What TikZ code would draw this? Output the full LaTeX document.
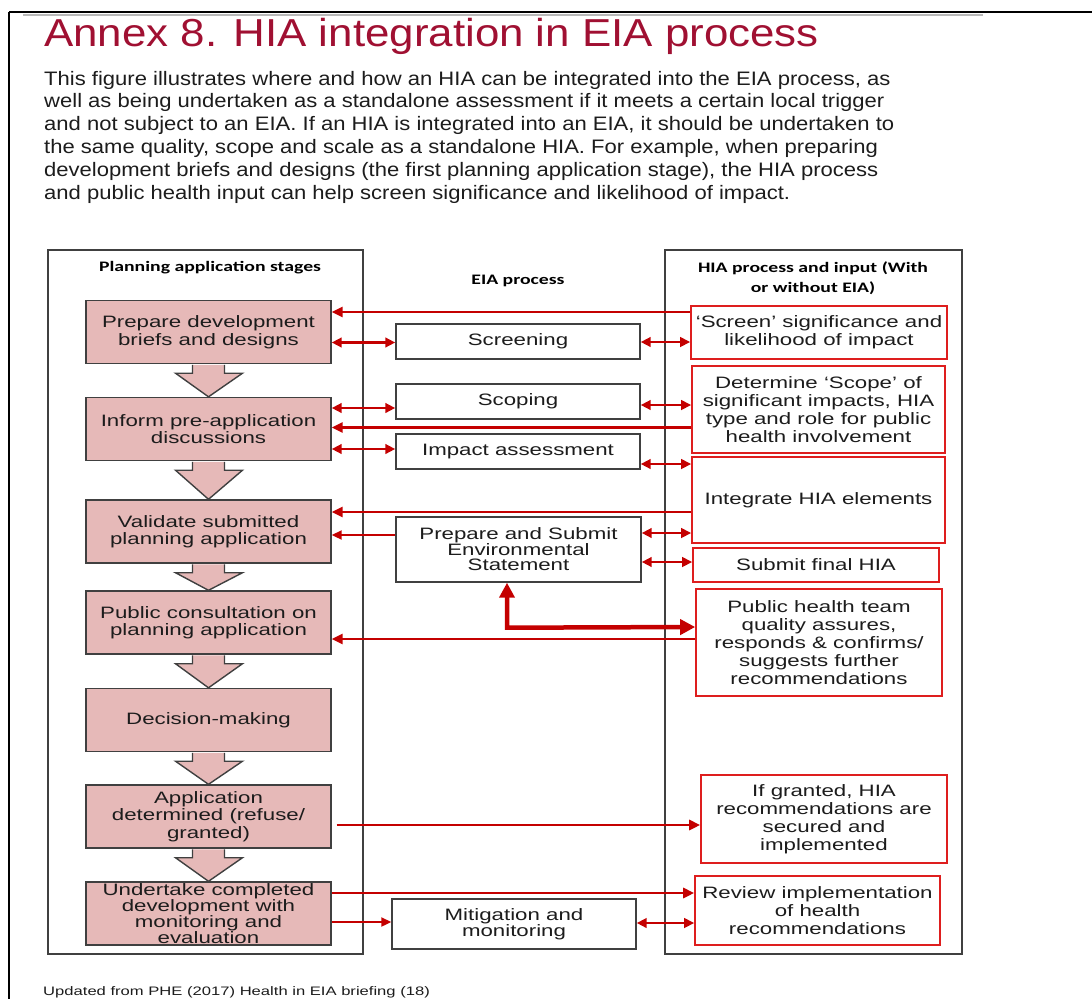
\documentclass[tikz,border=0pt]{standalone}
\usepackage{fontspec}
\usetikzlibrary{arrows.meta,calc}
\setmainfont{Liberation Sans}
\newfontfamily\dgf{Liberation Sans}[FakeStretch=1.35]
\newfontfamily\hdf{Carlito}[FakeStretch=1.36]
\newfontfamily\ttlf{Liberation Sans}[FakeStretch=1.125]
\newfontfamily\parf{Liberation Sans}[FakeStretch=1.13]
\definecolor{ttl}{RGB}{160,16,50}
\definecolor{pinkc}{RGB}{230,185,184}
\definecolor{bord}{RGB}{64,64,64}
\definecolor{arr}{RGB}{196,0,0}
\definecolor{redb}{RGB}{222,30,30}
\definecolor{txt}{RGB}{28,28,28}
\tikzset{
  pk/.style={draw=bord, fill=pinkc, line width=1.4pt, minimum width=245pt, minimum height=63pt, inner sep=0pt, align=center, text=txt, font=\dgf\fontsize{16.5}{17.5}\selectfont},
  mb/.style={draw=bord, fill=white, line width=1.4pt, inner sep=0pt, align=center, text=txt, font=\dgf\fontsize{16.5}{17.5}\selectfont},
  rb/.style={draw=redb, fill=white, line width=1.6pt, inner sep=0pt, align=center, text=txt, font=\dgf\fontsize{16.5}{18}\selectfont},
  col/.style={draw=bord, line width=1.4pt, inner sep=0pt},
  hd/.style={inner sep=0pt, align=center, text=black, font=\hdf\bfseries\fontsize{14.5}{20}\selectfont},
  blk/.style={draw=bord, fill=pinkc, line width=1.4pt, line join=miter},
  ar/.style={draw=arr, line width=2.8pt, -{Triangle[length=11pt,width=10pt]}},
  arthin/.style={draw=arr, line width=2pt, -{Triangle[length=10pt,width=9pt]}},
  dar/.style={draw=arr, line width=2.6pt, {Triangle[length=10pt,width=9.5pt]}-{Triangle[length=10pt,width=9.5pt]}},
  bigar/.style={draw=arr, line width=4.5pt, {Triangle[length=15pt,width=15pt]}-{Triangle[length=15pt,width=15pt]}},
  para/.style={anchor=base west, inner sep=0pt, text=txt, font=\parf\fontsize{19.5}{22}\selectfont}
}
\begin{document}
\begin{tikzpicture}[x=1pt,y=-1pt]
\useasboundingbox (0,0) rectangle (1092,999);
% page frame
\draw[gray!55, line width=2pt] (23,15) -- (983,15);
\draw[black, line width=2.5pt] (9,12) -- (1092,12);
\draw[black, line width=2.5pt] (9,12) -- (9,999);
% title and text
\node[anchor=base west, inner sep=0pt, text=ttl, font=\ttlf\fontsize{39}{40}\selectfont] (title) at (44,46) {Annex 8. HIA integration in EIA process};
\node[para] (p1) at (44,85) {This figure illustrates where and how an HIA can be integrated into the EIA process, as};
\node[para] (p2) at (44,107.8) {well as being undertaken as a standalone assessment if it meets a certain local trigger};
\node[para] (p3) at (44,130.6) {and not subject to an EIA. If an HIA is integrated into an EIA, it should be undertaken to};
\node[para] (p4) at (44,153.4) {the same quality, scope and scale as a standalone HIA. For example, when preparing};
\node[para] (p5) at (44,176.2) {development briefs and designs (the first planning application stage), the HIA process};
\node[para] (p6) at (44,199) {and public health input can help screen significance and likelihood of impact.};
% columns
\node[col, minimum width=315pt, minimum height=704pt] (lc) at (205.5,602) {};
\node[col, minimum width=297pt, minimum height=704pt] (rc) at (813.5,602) {};
\node[hd] (lh) at (210,268) {Planning application stages};
\node[hd] (mh) at (518,281) {EIA process};
\node[hd] (rh) at (813,278) {HIA process and input (With\\or without EIA)};
% left boxes
\node[pk] (b1) at (208.5,332) {Prepare development\\briefs and designs};
\node[pk] (b2) at (208.5,429) {Inform pre-application\\discussions};
\node[pk] (b3) at (208.5,531.5) {Validate submitted\\planning application};
\node[pk] (b4) at (208.5,622.5) {Public consultation on\\planning application};
\node[pk] (b5) at (208.5,720) {Decision-making};
\node[pk] (b6) at (208.5,816.5) {Application\\determined (refuse/\\granted)};
\node[pk, font=\dgf\fontsize{16.5}{16}\selectfont] (b7) at (208.5,913.5) {Undertake completed\\development with\\monitoring and\\evaluation};
% block arrows
\foreach \a/\b in {b1/b2,b2/b3,b3/b4,b4/b5,b5/b6,b6/b7}{
  \filldraw[blk] ($(\a.south)+(-16,0.7)$) -- ($(\a.south)+(-16,9)$) -- ($(\a.south)+(-33,9)$) -- (\b.north) -- ($(\a.south)+(34,9)$) -- ($(\a.south)+(16,9)$) -- ($(\a.south)+(16,0.7)$);
}
% middle boxes
\node[mb, minimum width=244pt, minimum height=35pt] (scr) at (518,341.5) {Screening};
\node[mb, minimum width=244pt, minimum height=35pt] (scp) at (518,401.5) {Scoping};
\node[mb, minimum width=244pt, minimum height=35pt] (imp) at (518,451.5) {Impact assessment};
\node[mb, minimum width=245pt, minimum height=65pt, font=\dgf\fontsize{16.5}{15.5}\selectfont] (es) at (518.5,549.5) {Prepare and Submit\\Environmental\\Statement};
\node[mb, minimum width=244pt, minimum height=50pt, font=\dgf\fontsize{16.5}{16}\selectfont] (mit) at (514,924) {Mitigation and\\monitoring};
% right boxes
\node[rb, minimum width=256pt, minimum height=53pt] (sc) at (819,332.5) {‘Screen’ significance and\\likelihood of impact};
\node[rb, minimum width=253pt, minimum height=87pt] (det) at (818.5,409.5) {Determine ‘Scope’ of\\significant impacts, HIA\\type and role for public\\health involvement};
\node[rb, minimum width=253pt, minimum height=86pt] (int) at (818.5,500) {Integrate HIA elements};
\node[rb, minimum width=246pt, minimum height=34pt] (sub) at (816,565) {Submit final HIA};
\node[rb, minimum width=246pt, minimum height=107pt] (ph) at (819,642.5) {Public health team\\quality assures,\\responds \& confirms/\\suggests further\\recommendations};
\node[rb, minimum width=246pt, minimum height=88pt] (ifg) at (824,819) {If granted, HIA\\recommendations are\\secured and\\implemented};
\node[rb, minimum width=245pt, minimum height=69pt] (rev) at (817.5,910.5) {Review implementation\\of health\\recommendations};
% connectors
\draw[ar] (sc.west |- 0,312) -- (b1.east |- 0,312);
\draw[dar] (b1.east |- 0,342.5) -- (scr.west |- 0,342.5);
\draw[dar] (scr.east |- 0,342) -- (sc.west |- 0,342);
\draw[dar] (b2.east |- 0,408) -- (scp.west |- 0,408);
\draw[dar] (scp.east |- 0,405) -- (det.west |- 0,405);
\draw[ar] (det.west |- 0,427.5) -- (b2.east |- 0,427.5);
\draw[dar] (b2.east |- 0,449) -- (imp.west |- 0,449);
\draw[dar] (imp.east |- 0,464) -- (int.west |- 0,464);
\draw[ar] (int.west |- 0,512) -- (b3.east |- 0,512);
\draw[arthin] (es.west |- 0,535) -- (b3.east |- 0,535);
\draw[dar] (es.east |- 0,533) -- (int.west |- 0,533);
\draw[dar] (es.east |- 0,562) -- (sub.west |- 0,562);
\draw[bigar] ($(es.south)+(-11.5,0)$) -- ($(es.south)+(-11.5,45)$) -- (ph.west |- 0,627);
\draw[ar] (ph.west |- 0,639) -- (b4.east |- 0,639);
\draw[ar] ($(b6.east |- 0,825)+(5,0)$) -- (ifg.west |- 0,825);
\draw[ar] (b7.east |- 0,893) -- (rev.west |- 0,893);
\draw[arthin] (b7.east |- 0,922) -- (mit.west |- 0,922);
\draw[dar] (mit.east |- 0,923) -- (rev.west |- 0,923);
% footer
\node[anchor=base west, inner sep=0pt, text=txt, font=\dgf\fontsize{12.3}{14}\selectfont] (foot) at (43,995) {Updated from PHE (2017) Health in EIA briefing (18)};
\end{tikzpicture}
\end{document}
